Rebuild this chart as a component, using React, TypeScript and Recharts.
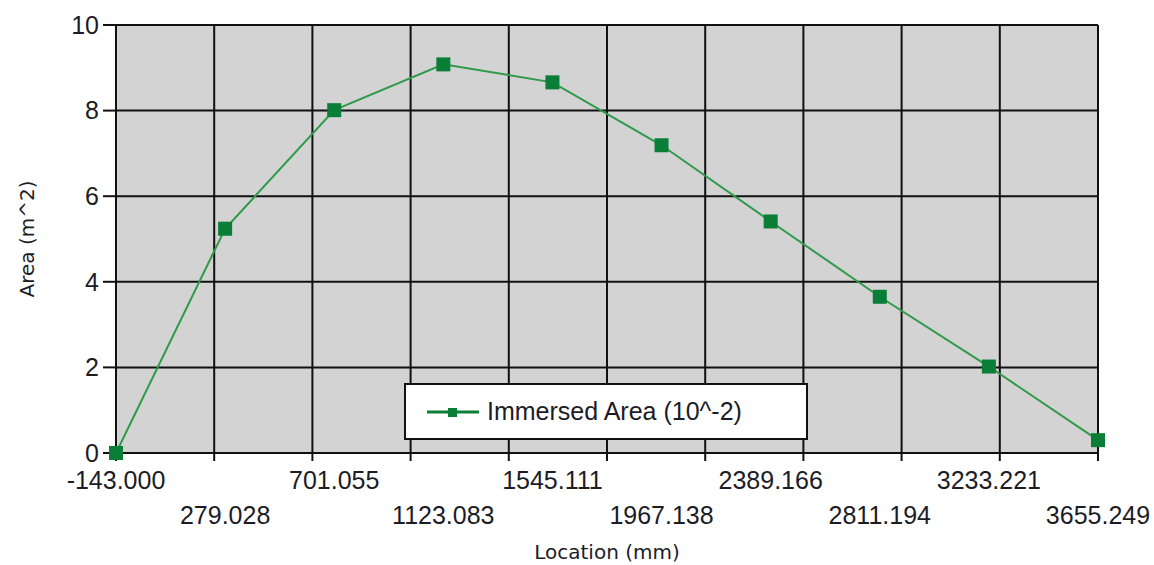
import React from 'react';
import { LineChart, Line, XAxis, YAxis, CartesianGrid, Legend } from 'recharts';

const locations = [-143.0, 279.028, 701.055, 1123.083, 1545.111, 1967.138, 2389.166, 2811.194, 3233.221, 3655.249];
const locationLabels = ['-143.000', '279.028', '701.055', '1123.083', '1545.111', '1967.138', '2389.166', '2811.194', '3233.221', '3655.249'];
const areas = [0.0, 5.24, 8.01, 9.08, 8.66, 7.19, 5.41, 3.65, 2.02, 0.3];
const yTicks = [0, 2, 4, 6, 8, 10];
const gridDivisions = [0, 1, 2, 3, 4, 5, 6, 7, 8, 9, 10];
const seriesName = 'Immersed Area (10^-2)';
const xTitle = 'Location (mm)';
const yTitle = 'Area (m^2)';

const data = locations.map((loc, i) => ({ loc, area: areas[i], label: locationLabels[i] }));

const xMin = locations[0];
const xMax = locations[locations.length - 1];
// vertical grid divides the x range into equal parts
const gridTicks = gridDivisions.map((k) => xMin + (k * (xMax - xMin)) / (gridDivisions.length - 1));

const TICK_FONT = '"Liberation Sans", Arial, sans-serif';
const TITLE_FONT = '"DejaVu Sans", Verdana, sans-serif';
const TEXT_COLOR = '#1c1c26';
const LINE_COLOR = '#2f9a4a';
const MARKER_COLOR = '#0a7e37';

const LocTick = (props: any) => {
  const { x, y, payload, index } = props;
  const row = index % 2;
  const lbl = data.find((d) => d.loc === payload.value)?.label ?? String(payload.value);
  return (
    <text
      x={x}
      y={y + (row === 0 ? 35 : 70)}
      textAnchor="middle"
      fontFamily={TICK_FONT}
      fontSize={25}
      fill={TEXT_COLOR}
    >
      {lbl}
    </text>
  );
};

const SquareDot = (props: any) => {
  const { cx, cy, index } = props;
  if (cx == null || cy == null) return null;
  return <rect key={`dot-${index}`} x={cx - 7} y={cy - 7} width={14} height={14} fill={MARKER_COLOR} />;
};

const LegendContent = () => (
  <div
    style={{
      boxSizing: 'border-box',
      width: 404,
      height: 57,
      border: '2px solid #111',
      background: '#fff',
      display: 'flex',
      alignItems: 'center',
      paddingLeft: 19,
    }}
  >
    <svg width={56} height={20} style={{ display: 'block' }}>
      <line x1={2} y1={10} x2={54} y2={10} stroke={MARKER_COLOR} strokeWidth={3} />
      <rect x={23} y={6} width={9} height={9} fill={MARKER_COLOR} />
    </svg>
    <span
      style={{
        fontFamily: TICK_FONT,
        fontSize: 25,
        color: TEXT_COLOR,
        marginLeft: 6,
        lineHeight: '25px',
      }}
    >
      {seriesName}
    </span>
  </div>
);

export default function App() {
  return (
    <div style={{ position: 'absolute', left: 0, top: 0, background: '#fff' }}>
      <LineChart width={1154} height={565} data={data} margin={{ top: 25, right: 56, bottom: 0, left: 0 }}>
        <XAxis
          xAxisId="grid"
          dataKey="loc"
          type="number"
          domain={[xMin, xMax]}
          ticks={gridTicks}
          interval={0}
          height={1}
          tickSize={8}
          tick={() => <g />}
          axisLine={{ stroke: '#111', strokeWidth: 2 }}
          tickLine={{ stroke: '#111', strokeWidth: 2 }}
        />
        <XAxis
          xAxisId="loc"
          dataKey="loc"
          type="number"
          domain={[xMin, xMax]}
          ticks={locations}
          interval={0}
          height={111}
          tickSize={0}
          tickMargin={0}
          axisLine={false}
          tickLine={false}
          tick={<LocTick />}
          label={{
            content: (p: any) => {
              const vb = p.viewBox || {};
              return (
                <text
                  x={vb.x + vb.width / 2}
                  y={vb.y + 105}
                  textAnchor="middle"
                  fontFamily={TITLE_FONT}
                  fontSize={20}
                  fill={TEXT_COLOR}
                >
                  {xTitle}
                </text>
              );
            },
          }}
        />
        <YAxis
          type="number"
          domain={[0, 10]}
          ticks={yTicks}
          width={116}
          tickSize={13}
          tickMargin={4}
          axisLine={{ stroke: '#111', strokeWidth: 2 }}
          tickLine={{ stroke: '#111', strokeWidth: 2 }}
          tick={{ fontFamily: TICK_FONT, fontSize: 25, fill: TEXT_COLOR }}
          label={{
            content: (p: any) => {
              const vb = p.viewBox || {};
              const cx = 27;
              const cy = vb.y + vb.height / 2;
              return (
                <text
                  x={cx}
                  y={cy}
                  transform={`rotate(-90 ${cx} ${cy})`}
                  textAnchor="middle"
                  dominantBaseline="central"
                  fontFamily={TITLE_FONT}
                  fontSize={20}
                  fill={TEXT_COLOR}
                >
                  {yTitle}
                </text>
              );
            },
          }}
        />
        <CartesianGrid xAxisId="grid" fill="#d3d3d3" stroke="#111" strokeWidth={2} fillOpacity={1} />
        <Legend
          layout="horizontal"
          verticalAlign="middle"
          align="center"
          wrapperStyle={{ left: 404, top: 383, width: 404, height: 57 }}
          content={<LegendContent />}
        />
        <Line
          xAxisId="loc"
          type="linear"
          dataKey="area"
          name={seriesName}
          stroke={LINE_COLOR}
          strokeWidth={2}
          dot={<SquareDot />}
          activeDot={false}
          isAnimationActive={false}
        />
      </LineChart>
    </div>
  );
}
